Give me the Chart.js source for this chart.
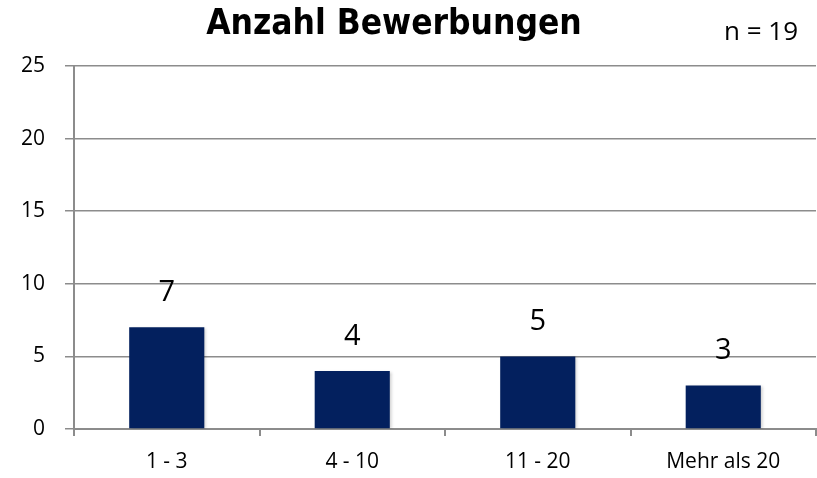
<!DOCTYPE html>
<html>
<head>
<meta charset="utf-8">
<script src="https://cdn.jsdelivr.net/npm/chart.js@4"></script>
<style>
  html, body { margin: 0; padding: 0; background: #fff; }
  #wrap { width: 817px; height: 478px; }
</style>
</head>
<body>
<div id="wrap"><canvas id="myChart" width="817" height="478"></canvas></div>
<script>
// Daten
const categories = ['1 - 3', '4 - 10', '11 - 20', 'Mehr als 20'];
const counts = [7, 4, 5, 3];
const yTicks = [0, 5, 10, 15, 20, 25];
const chartTitle = 'Anzahl Bewerbungen';
const sampleNote = 'n = 19';

const barColor = '#03205e';
const gridColor = '#8c8c8c';
const textFont = '"Open Sans", "DejaVu Sans", sans-serif';
const titleFont = '"Liberation Sans Narrow", "DejaVu Sans Condensed", "Roboto", sans-serif';

// Titel, n und Werte über den Balken
const annotations = {
  id: 'annotations',
  beforeDatasetsDraw(chart) {
    const ctx = chart.ctx;
    ctx.save();
    ctx.shadowColor = 'rgba(0,0,0,0.2)';
    ctx.shadowBlur = 3;
    ctx.shadowOffsetX = 2;
    ctx.shadowOffsetY = 1;
  },
  afterDatasetsDraw(chart) {
    const ctx = chart.ctx;
    ctx.restore();
    ctx.save();
    ctx.fillStyle = '#000';
    ctx.textAlign = 'center';
    ctx.textBaseline = 'bottom';
    ctx.font = '29px ' + textFont;
    chart.getDatasetMeta(0).data.forEach((bar, i) => {
      ctx.fillText(String(counts[i]), bar.x, bar.y - 20);
    });
    ctx.font = 'bold 35px ' + titleFont;
    ctx.textBaseline = 'middle';
    ctx.fillText(chartTitle, 394, 25);
    ctx.font = '26px ' + textFont;
    ctx.fillText(sampleNote, 761, 33);
    ctx.restore();
  }
};

const config = {
  type: 'bar',
  data: {
    labels: categories,
    datasets: [{
      data: counts,
      backgroundColor: barColor,
      borderWidth: 0,
      categoryPercentage: 1,
      barPercentage: 0.405
    }]
  },
  options: {
    responsive: false,
    animation: false,
    layout: { padding: { top: 66, left: 0, right: 1, bottom: 0 } },
    plugins: {
      legend: { display: false },
      tooltip: { enabled: false }
    },
    scales: {
      x: {
        grid: { display: true, drawOnChartArea: false, offset: true, color: gridColor, lineWidth: 2, tickLength: 7 },
        border: { color: gridColor, width: 2 },
        ticks: { color: '#000', font: { family: textFont, size: 21 }, padding: 13, maxRotation: 0 },
        afterFit(scale) { scale.height = 49; }
      },
      y: {
        min: 0,
        max: 25,
        afterBuildTicks(scale) { scale.ticks = yTicks.map(v => ({ value: v })); },
        grid: { color: gridColor, lineWidth: 1.5, tickLength: 9 },
        border: { color: gridColor, width: 2 },
        ticks: { color: '#000', font: { family: textFont, size: 21 }, padding: 20 },
        afterFit(scale) { scale.width = 74; }
      }
    }
  },
  plugins: [annotations]
};

new Chart(document.getElementById('myChart').getContext('2d'), config);
</script>
</body>
</html>
